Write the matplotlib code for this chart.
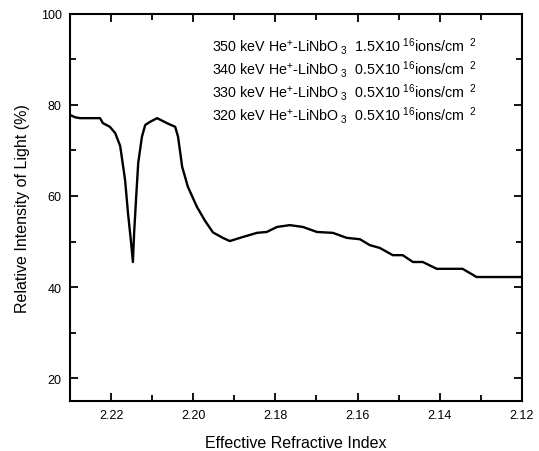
"""
Relative light intensity vs effective refractive index (He+ implanted LiNbO3).
"""

# Imports
import matplotlib
matplotlib.use("Agg")
import matplotlib.pyplot as plt
from matplotlib.ticker import MultipleLocator, FormatStrFormatter

# ----------------------------------------------------------------------------------------------------------------------
# Data

refIndex = [2.2300, 2.2288, 2.2276, 2.2227, 2.2220, 2.2203, 2.2190, 2.2178, 2.2166, 2.2159,
            2.2152, 2.2147, 2.2144, 2.2139, 2.2134, 2.2125, 2.2117, 2.2105, 2.2088, 2.2064,
            2.2044, 2.2037, 2.2027, 2.2013, 2.1991, 2.1971, 2.1952, 2.1928, 2.1911, 2.1879,
            2.1845, 2.1821, 2.1796, 2.1765, 2.1733, 2.1699, 2.1660, 2.1626, 2.1594, 2.1570,
            2.1546, 2.1514, 2.1490, 2.1465, 2.1441, 2.1407, 2.1344, 2.1327, 2.1310, 2.1200]
intensity = [77.8, 77.3, 77.1, 77.1, 76.0, 75.2, 73.8, 71.0, 63.5, 56.3,
             50.3, 45.5, 51.9, 59.8, 67.3, 73.0, 75.6, 76.3, 77.1, 76.0,
             75.2, 73.0, 66.4, 62.0, 57.6, 54.5, 52.0, 50.8, 50.1, 51.0,
             51.9, 52.1, 53.2, 53.6, 53.2, 52.1, 51.9, 50.8, 50.5, 49.2,
             48.6, 47.0, 47.0, 45.5, 45.5, 44.0, 44.0, 43.1, 42.2, 42.2]

energies = ["350", "340", "330", "320"]
doses = ["1.5", "0.5", "0.5", "0.5"]

# ----------------------------------------------------------------------------------------------------------------------

plt.rcParams['font.family'] = ['Liberation Sans', 'DejaVu Sans']
plt.rcParams['mathtext.fontset'] = 'custom'
plt.rcParams['mathtext.rm'] = 'Liberation Sans'
plt.rcParams['mathtext.it'] = 'Liberation Sans'

fig = plt.figure(figsize=(5.39, 4.52), dpi=100)
ax = fig.add_axes([0.130, 0.111, 0.838, 0.856])

ax.plot(refIndex, intensity, color='black', linewidth=1.7)

# Axes layout
ax.set_xlim(2.23, 2.12)
ax.set_ylim(15, 100)
ax.xaxis.set_major_locator(MultipleLocator(0.02))
ax.xaxis.set_minor_locator(MultipleLocator(0.01))
ax.yaxis.set_major_locator(MultipleLocator(20))
ax.yaxis.set_minor_locator(MultipleLocator(10))
ax.xaxis.set_major_formatter(FormatStrFormatter('%.2f'))
ax.tick_params(which='both', direction='in', top=True, right=True, labelsize=9, width=1.3)
ax.tick_params(which='major', length=6, pad=6)
ax.tick_params(which='minor', length=4)
for spine in ax.spines.values():
    spine.set_linewidth(1.5)

ax.set_xlabel('Effective Refractive Index', fontsize=11.5, labelpad=10)
ax.set_ylabel('Relative Intensity of Light (%)', fontsize=11.5, labelpad=8)

# Sample labels
for i in range(len(energies)):
    label = (energies[i] + r" keV He$^{+}$-LiNbO$_{\ 3}$  " + doses[i] + r"X10$^{\ 16}$ions/cm$^{\ \ 2}$")
    ax.text(0.315, 0.918 - i * 0.0594, label, transform=ax.transAxes, fontsize=10.3,
            ha='left', va='center')

fig.savefig('out.png', dpi=100)
